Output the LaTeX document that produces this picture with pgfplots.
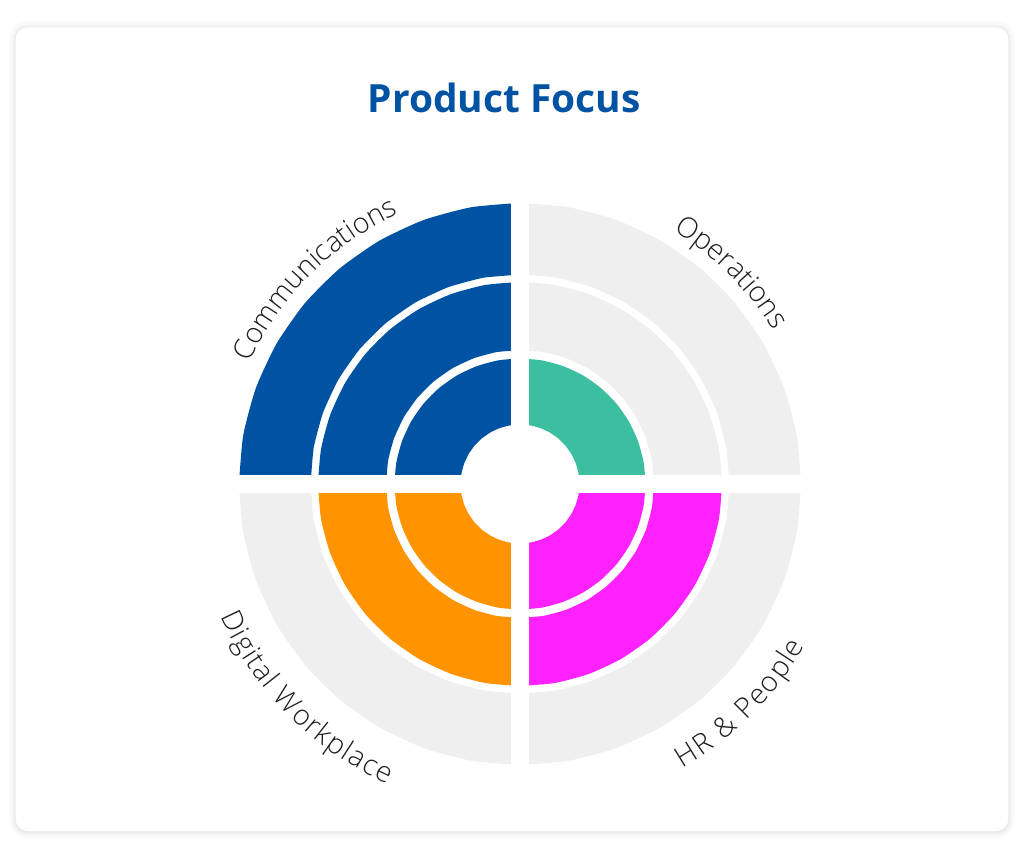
\documentclass[border=0pt]{standalone}
\usepackage{pgfplots}
\pgfplotsset{compat=1.18}
\usepgfplotslibrary{polar}
\usetikzlibrary{decorations.text}
\usepackage{fontspec}
\setmainfont{Open Sans}
\newfontfamily\lightfont{Open Sans Light}
\definecolor{cblue}{RGB}{0,82,162}
\definecolor{cgreen}{RGB}{60,190,160}
\definecolor{corange}{RGB}{255,148,0}
\definecolor{cmag}{RGB}{255,34,255}
\definecolor{cgray}{RGB}{239,239,239}
\definecolor{ctext}{RGB}{30,30,30}
\newcommand\lblfont{\lightfont\fontsize{28.5}{30}\selectfont\color{ctext}}
\begin{document}
\begin{tikzpicture}[x=1bp,y=1bp]
\useasboundingbox (0,0) rectangle (1024,859);
\fill[white] (0,0) rectangle (1024,859);
% card shadow
\foreach \s/\o in {7/0.010,5/0.014,3/0.020,1.5/0.030}{
  \fill[black,opacity=\o,rounded corners=12+\s] (15.7-\s,28-\s-1) rectangle (1008.3+\s,831.7+\s-0.5);
}
\fill[white,rounded corners=12] (15.7,28) rectangle (1008.3,831.7);
\node[font=\fontsize{39}{44}\selectfont\bfseries, text=cblue, anchor=base] at (504.2,746.3) {Product Focus};
\begin{axis}[at={(520,375)}, anchor=center, x=1bp, y=1bp,
  xmin=-300, xmax=300, ymin=-300, ymax=300, hide axis, clip=false,
  ringA/.style={line width=66bp, line cap=butt, smooth, tension=0.335, no markers, data cs=polar},
  ringB/.style={line width=68bp, line cap=butt, smooth, tension=0.335, no markers, data cs=polar},
  ringC/.style={line width=71.5bp, line cap=butt, smooth, tension=0.335, no markers, data cs=polar}]
% Communications (level 3)
\addplot[ringA, cblue] coordinates {(90,92.5) (100,92.5) (110,92.5) (120,92.5) (130,92.5) (140,92.5) (150,92.5) (160,92.5) (170,92.5) (180,92.5)};
\addplot[ringB, cblue] coordinates {(90,168) (100,168) (110,168) (120,168) (130,168) (140,168) (150,168) (160,168) (170,168) (180,168)};
\addplot[ringC, cblue] coordinates {(90,245.25) (100,245.25) (110,245.25) (120,245.25) (130,245.25) (140,245.25) (150,245.25) (160,245.25) (170,245.25) (180,245.25)};
% Operations (level 1)
\addplot[ringA, cgreen] coordinates {(0,92.5) (10,92.5) (20,92.5) (30,92.5) (40,92.5) (50,92.5) (60,92.5) (70,92.5) (80,92.5) (90,92.5)};
\addplot[ringB, cgray] coordinates {(0,168) (10,168) (20,168) (30,168) (40,168) (50,168) (60,168) (70,168) (80,168) (90,168)};
\addplot[ringC, cgray] coordinates {(0,245.25) (10,245.25) (20,245.25) (30,245.25) (40,245.25) (50,245.25) (60,245.25) (70,245.25) (80,245.25) (90,245.25)};
% Digital Workplace (level 2)
\addplot[ringA, corange] coordinates {(180,92.5) (190,92.5) (200,92.5) (210,92.5) (220,92.5) (230,92.5) (240,92.5) (250,92.5) (260,92.5) (270,92.5)};
\addplot[ringB, corange] coordinates {(180,168) (190,168) (200,168) (210,168) (220,168) (230,168) (240,168) (250,168) (260,168) (270,168)};
\addplot[ringC, cgray] coordinates {(180,245.25) (190,245.25) (200,245.25) (210,245.25) (220,245.25) (230,245.25) (240,245.25) (250,245.25) (260,245.25) (270,245.25)};
% HR & People (level 2)
\addplot[ringA, cmag] coordinates {(270,92.5) (280,92.5) (290,92.5) (300,92.5) (310,92.5) (320,92.5) (330,92.5) (340,92.5) (350,92.5) (360,92.5)};
\addplot[ringB, cmag] coordinates {(270,168) (280,168) (290,168) (300,168) (310,168) (320,168) (330,168) (340,168) (350,168) (360,168)};
\addplot[ringC, cgray] coordinates {(270,245.25) (280,245.25) (290,245.25) (300,245.25) (310,245.25) (320,245.25) (330,245.25) (340,245.25) (350,245.25) (360,245.25)};
% separating cross
\fill[white] (axis cs:-9,-300) rectangle (axis cs:9,300);
\fill[white] (axis cs:-300,-8.7) rectangle (axis cs:300,8.7);
\end{axis}
% curved labels
\path[decorate, decoration={text along path, text align=center, text={|\lblfont|Communications}}]
  (520,375) ++(180:296) arc[start angle=180, end angle=90, radius=296];
\path[decorate, decoration={text along path, text align=center, text={|\lblfont|Operations}}]
  (520,375) ++(90:296) arc[start angle=90, end angle=0, radius=296];
\path[decorate, decoration={text along path, text align=center, raise=-31.5bp, text={|\lblfont|Digital Workplace}}]
  (520,375) ++(180:296) arc[start angle=180, end angle=270, radius=296];
\path[decorate, decoration={text along path, text align=center, raise=-31.5bp, text={|\lblfont|HR {\&} People}}]
  (520,375) ++(270:296) arc[start angle=270, end angle=360, radius=296];
\end{tikzpicture}
\end{document}
